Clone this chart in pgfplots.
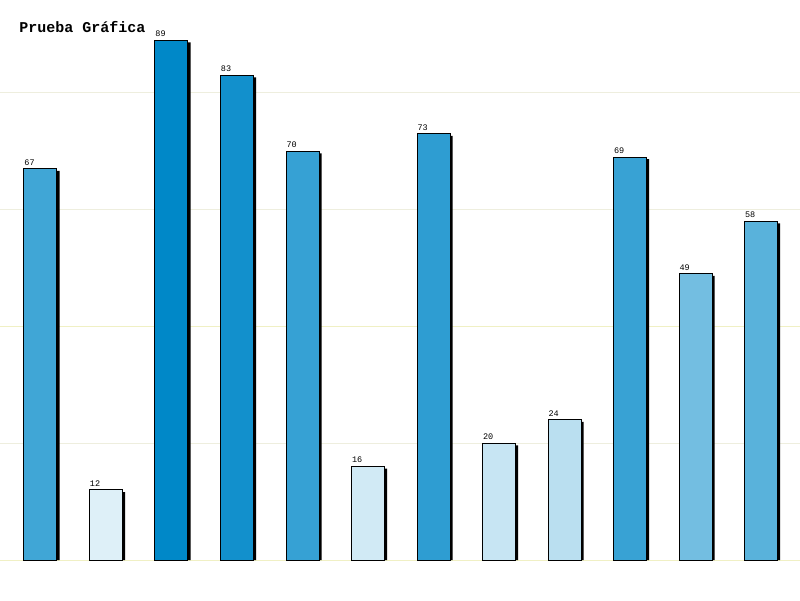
\documentclass[border=0pt]{standalone}
\usepackage{pgfplots}
\pgfplotsset{compat=1.18}
\usepackage{fontspec}
\setmainfont{Liberation Mono}
\definecolor{base}{HTML}{0088C8}
\definecolor{gridA}{HTML}{EEEEDE}
\definecolor{gridB}{HTML}{F0F0C4}
\begin{document}
\begin{tikzpicture}
\begin{axis}[
  at={(0,0)}, anchor=south west,
  width=800pt, height=600pt, scale only axis,
  xmin=-0.618, xmax=11.595, ymin=-6.85, ymax=95.9,
  axis line style={draw=none}, tick style={draw=none},
  xtick=\empty, ytick={20,60,80}, yticklabels={},
  extra y ticks={0,40}, extra y tick labels={},
  extra y tick style={grid=major, major grid style={gridB, line width=1pt}},
  ymajorgrids, major grid style={gridA, line width=1pt},
  /pgf/number format/assume math mode=true,
  title={\bfseries Prueba Gráfica},
  every axis title shift=0pt,
  title style={at={(rel axis cs:0.024,0.945)}, anchor=base west, yshift=0pt, inner sep=0pt, font=\fontsize{15}{15}\selectfont},
  every axis plot/.append style={ybar, bar width=33pt, bar shift=0pt},
  lbl/.style={nodes near coords, every node near coord/.append style={anchor=south west, xshift=-16.5pt, yshift=3pt, inner sep=0pt, font=\fontsize{8.5}{8.5}\selectfont, text=black}},
]
% shadows
\addplot[fill=black, draw=none, bar shift=2.7pt] table[x=x, y expr=\thisrow{v}-0.36] {
x v
0 67
1 12
2 89
3 83
4 70
5 16
6 73
7 20
8 24
9 69
10 49
11 58
};
\addplot[fill=base!75!white, draw=black, line width=1pt, lbl] coordinates {(0,67)};
\addplot[fill=base!13!white, draw=black, line width=1pt, lbl] coordinates {(1,12)};
\addplot[fill=base!100!white, draw=black, line width=1pt, lbl] coordinates {(2,89)};
\addplot[fill=base!93!white, draw=black, line width=1pt, lbl] coordinates {(3,83)};
\addplot[fill=base!79!white, draw=black, line width=1pt, lbl] coordinates {(4,70)};
\addplot[fill=base!18!white, draw=black, line width=1pt, lbl] coordinates {(5,16)};
\addplot[fill=base!82!white, draw=black, line width=1pt, lbl] coordinates {(6,73)};
\addplot[fill=base!22!white, draw=black, line width=1pt, lbl] coordinates {(7,20)};
\addplot[fill=base!27!white, draw=black, line width=1pt, lbl] coordinates {(8,24)};
\addplot[fill=base!78!white, draw=black, line width=1pt, lbl] coordinates {(9,69)};
\addplot[fill=base!55!white, draw=black, line width=1pt, lbl] coordinates {(10,49)};
\addplot[fill=base!65!white, draw=black, line width=1pt, lbl] coordinates {(11,58)};
\end{axis}
\pgfresetboundingbox
\path[use as bounding box] (0,0) rectangle (800pt,600pt);
\end{tikzpicture}
\end{document}
